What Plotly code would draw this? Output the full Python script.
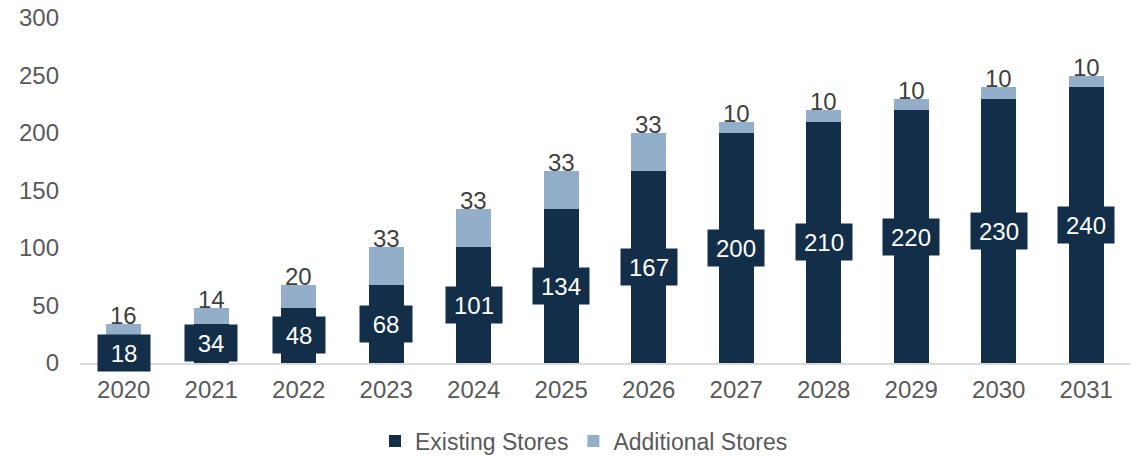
import plotly.graph_objects as go

years = ["2020", "2021", "2022", "2023", "2024", "2025",
         "2026", "2027", "2028", "2029", "2030", "2031"]
existing = [18, 34, 48, 68, 101, 134, 167, 200, 210, 220, 230, 240]
additional = [16, 14, 20, 33, 33, 33, 33, 10, 10, 10, 10, 10]
y_ticks = [0, 50, 100, 150, 200, 250, 300]

NAVY = "#132e48"
LIGHT = "#92aec8"
FONT = "Liberation Sans, Arial, sans-serif"

fig = go.Figure()
fig.add_trace(go.Bar(x=years, y=existing, name="Existing Stores",
                     marker=dict(color=NAVY, line=dict(width=0))))
fig.add_trace(go.Bar(x=years, y=additional, name="Additional Stores",
                     marker=dict(color=LIGHT, line=dict(width=0))))

annotations = []
for i, (e, a) in enumerate(zip(existing, additional)):
    # boxed value label centred in the existing-stores segment
    annotations.append(dict(
        x=i, y=e / 2, xref="x", yref="y", text=str(e), showarrow=False,
        font=dict(family=FONT, size=24, color="white"),
        bgcolor=NAVY, borderpad=3, width=46 if len(str(e)) < 3 else 50,
        height=30, align="center", valign="middle"))
    # increment label above the stack
    annotations.append(dict(
        x=i, y=e + a, xref="x", yref="y", text=str(a), showarrow=False,
        yanchor="bottom", yshift=-7,
        font=dict(family=FONT, size=24, color="#404040")))

fig.update_layout(
    barmode="stack",
    bargap=0.6,
    width=1140, height=457,
    margin=dict(l=80, r=10, t=18, b=94, autoexpand=False),
    plot_bgcolor="white", paper_bgcolor="white",
    font=dict(family=FONT, size=24, color="#595959"),
    showlegend=True,
    legend=dict(orientation="h", x=0.48, xanchor="center",
                yref="container", y=0.035, yanchor="middle",
                font=dict(size=23, color="#595959"),
                traceorder="normal"),
    annotations=annotations,
    xaxis=dict(type="category", showline=True, linecolor="#d9d9d9",
               linewidth=2, ticks="", showgrid=False,
               ticklabelstandoff=4,
               tickfont=dict(size=24, color="#595959")),
    yaxis=dict(range=[0, 300], tickvals=y_ticks, showgrid=False,
               zeroline=False, showline=False, ticks="",
               ticklabelstandoff=20,
               tickfont=dict(size=24, color="#595959")),
)

fig.write_html("out.html")
